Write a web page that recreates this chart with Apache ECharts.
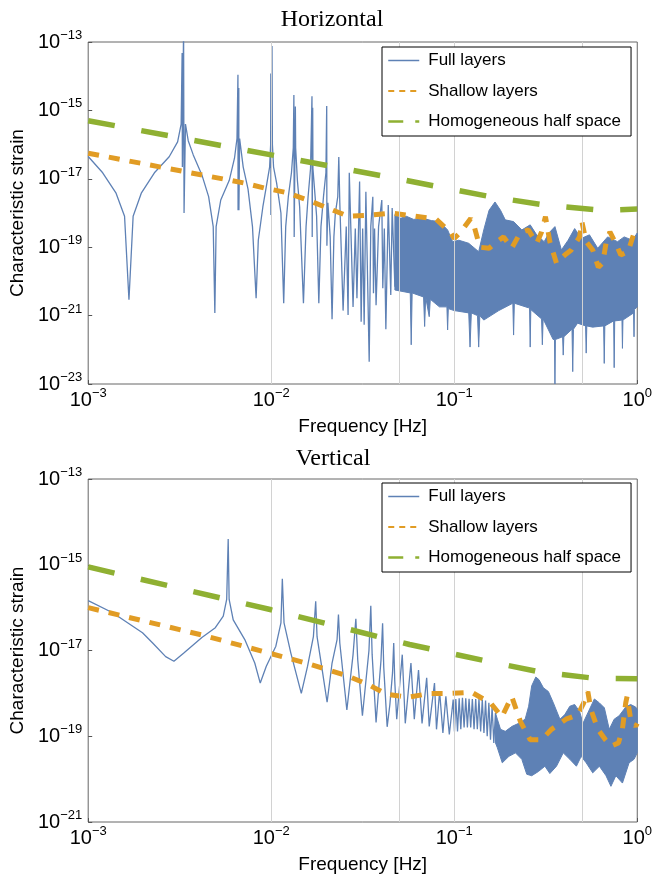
<!DOCTYPE html>
<html><head><meta charset="utf-8">
<script src="https://cdn.jsdelivr.net/npm/echarts@6/dist/echarts.min.js"></script>
<style>html,body{margin:0;padding:0;background:#fff}#c{width:655px;height:876px}</style>
</head><body><div id="c"></div>
<script>
// ---------- tick values ----------
const xTicks = [1e-3, 1e-2, 1e-1, 1];
const yTicksTop = [1e-23, 1e-21, 1e-19, 1e-17, 1e-15, 1e-13];
const yTicksBottom = [1e-21, 1e-19, 1e-17, 1e-15, 1e-13];
const xGridLines = [0.005, 0.01, 0.05, 0.1, 0.5];
const yGridTop = [1e-15, 1e-18, 1e-21];
const yGridBottom = [1e-14, 1e-16, 1e-18, 1e-20];
const titles = ['Horizontal', 'Vertical'];
const seriesNames = ['Full layers', 'Shallow layers', 'Homogeneous half space'];

// ---------- Horizontal: Full layers (resolved part) ----------
const fullH = [
[1.0e-3,4.5e-17],[1.2e-3,1.5e-17],[1.42e-3,3.8e-18],[1.58e-3,8e-19],[1.67e-3,2.9e-21],[1.76e-3,8e-19],
[1.95e-3,3.8e-18],[2.3e-3,1.5e-17],[2.77e-3,4.4e-17],[3.08e-3,1.2e-16],[3.22e-3,4e-16],[3.26e-3,4.8e-14],
[3.27e-3,2.2e-17],[3.32e-3,3e-13],[3.34e-3,1e-18],[3.40e-3,4e-16],[3.52e-3,1.3e-16],[3.75e-3,5e-17],
[4.18e-3,1.3e-17],[4.55e-3,3e-18],[4.82e-3,4e-19],[4.92e-3,1.2e-21],[5.0e-3,4e-19],[5.3e-3,2.4e-18],
[5.9e-3,9e-18],[6.3e-3,4e-17],[6.5e-3,1.5e-16],[6.58e-3,1.1e-14],[6.59e-3,1.2e-18],[6.65e-3,4.5e-15],
[6.66e-3,1.2e-18],[6.72e-3,1.5e-16],[7.03e-3,2.2e-17],[7.47e-3,5e-18],[7.9e-3,4e-19],[8.27e-3,3.2e-21],
[8.5e-3,1.6e-19],[9.0e-3,1.5e-18],[9.4e-3,5.9e-18],[9.8e-3,2.2e-17],[9.93e-3,1e-16],[9.95e-3,1.2e-14],
[9.96e-3,8.7e-19],[1.01e-2,7.6e-14],[1.015e-2,1e-16],[1.03e-2,2.2e-17],[1.07e-2,7.6e-18],[1.13e-2,1e-18],
[1.17e-2,2.3e-21],[1.2e-2,4e-19],[1.24e-2,3e-18],[1.29e-2,1.5e-17],[1.32e-2,8e-17],[1.33e-2,2.8e-15],
[1.335e-2,2e-19],[1.355e-2,1.3e-15],[1.36e-2,8e-17],[1.39e-2,9e-18],[1.43e-2,1.5e-18],[1.5e-2,2.3e-21],
[1.55e-2,4e-19],[1.59e-2,3e-18],[1.64e-2,2e-17],[1.67e-2,2.6e-15],[1.675e-2,2e-19],[1.685e-2,1.2e-15],
[1.69e-2,2e-17],[1.73e-2,4e-18],[1.77e-2,8e-19],[1.82e-2,2.3e-21],[1.87e-2,4e-19],[1.93e-2,3e-18],
[1.99e-2,1.5e-17],[2.01e-2,1.35e-15],[2.015e-2,1.1e-19],[2.04e-2,2e-18],[2.1e-2,2e-19],[2.15e-2,7.8e-22],
[2.2e-2,2e-19],[2.24e-2,9.8e-19],[2.31e-2,3e-18],[2.34e-2,4.3e-17],[2.37e-2,2e-18],[2.47e-2,1.4e-21],
[2.57e-2,4e-19],[2.63e-2,1.05e-21],[2.67e-2,1.5e-17],[2.8e-2,1.8e-21],[2.88e-2,3.5e-19],[2.94e-2,3.2e-21],
[3.04e-2,8.3e-18],[3.1e-2,6.6e-22],[3.16e-2,3.5e-19],[3.22e-2,5.4e-22],[3.29e-2,4.2e-18],[3.43e-2,4.5e-23],
[3.5e-2,4e-19],[3.59e-2,3e-18],[3.62e-2,4.5e-21],[3.67e-2,3.5e-19],[3.74e-2,2e-21],[3.86e-2,4e-19],
[4.02e-2,2.4e-18],[4.07e-2,6.3e-21],[4.15e-2,3.5e-19],[4.23e-2,4e-22],[4.36e-2,1.7e-18],[4.5e-2,4e-21],
[4.58e-2,1.4e-18],[4.74e-2,7e-21],[4.84e-2,1e-18]
];
// Horizontal: Full layers, dense band (upper / lower envelope)
const bandHUpper = [
[0.0474,9e-19],[0.051,7e-19],[0.0548,8e-19],[0.06,6.5e-19],[0.0675,7e-19],[0.075,6e-19],[0.083,5.6e-19],
[0.092,3.2e-19],[0.098,1.45e-19],[0.106,1.6e-19],[0.12,1.3e-19],[0.136,7.4e-20],[0.145,3.2e-19],[0.155,1.2e-18],
[0.167,2.1e-18],[0.179,1.2e-18],[0.19,6.3e-19],[0.211,5.6e-19],[0.234,3.2e-19],[0.26,4.5e-19],[0.282,2.3e-19],
[0.31,1.45e-19],[0.329,2.6e-19],[0.355,4e-19],[0.385,8.3e-20],[0.419,1.6e-19],[0.455,3.5e-19],[0.494,1.8e-19],
[0.548,2.3e-19],[0.608,9.3e-20],[0.689,2e-19],[0.78,1.45e-19],[0.848,2e-19],[0.94,1.6e-19],[1.0,2.6e-19]
];
const bandHLower = [
[0.0474,5.6e-21],[0.0575,4.6e-21],[0.0582,1.4e-22],[0.0589,4.6e-21],[0.068,3.5e-21],[0.0689,4.8e-22],
[0.0698,3.5e-21],[0.073,9.3e-22],[0.074,3e-21],[0.083,1.8e-21],[0.0912,1.8e-21],[0.092,3.8e-22],
[0.0928,1.6e-21],[0.1,1.4e-21],[0.12,1.2e-21],[0.122,1.2e-22],[0.124,1.2e-21],[0.134,1e-21],[0.136,1.2e-22],
[0.138,1e-21],[0.145,7.4e-22],[0.175,1.4e-21],[0.209,2.3e-21],[0.211,2.7e-22],[0.213,2.3e-21],[0.254,1.7e-21],
[0.258,1.7e-21],[0.26,1.2e-22],[0.262,1.5e-21],[0.3,8e-22],[0.303,1.4e-22],[0.306,8e-22],[0.347,2e-22],
[0.353,2e-22],[0.355,1e-23],[0.357,2e-22],[0.391,2.4e-22],[0.394,7e-23],[0.397,2.4e-22],[0.44,4e-22],
[0.444,2.3e-23],[0.448,4e-22],[0.472,6e-22],[0.522,5e-22],[0.526,8e-23],[0.53,5e-22],[0.57,4.6e-22],
[0.655,5e-22],[0.66,4e-23],[0.665,5e-22],[0.743,7e-22],[0.748,3e-23],[0.753,7e-22],[0.825,7.4e-22],
[0.83,1.1e-22],[0.835,7.4e-22],[0.955,1.2e-21],[0.96,2.4e-22],[0.965,1.5e-21],[1.0,1.8e-21]
];
const shallowH = [
[1e-3,5.6e-17],[4.3e-3,1.26e-17],[7.06e-3,7.6e-18],[9.16e-3,5.4e-18],[1.2e-2,4e-18],[1.58e-2,2.4e-18],
[2.03e-2,1.4e-18],[2.63e-2,8.1e-19],[3.5e-2,8.7e-19],[4.55e-2,1e-18],[6.08e-2,8.1e-19],[7.96e-2,6.6e-19],
[9.6e-2,2.6e-19],[0.1,1.8e-19],[0.1087,2.8e-19],[0.123,6.9e-19],[0.128,4.4e-19],[0.138,1e-19],[0.155,9.3e-20],
[0.171,1.45e-19],[0.186,2e-19],[0.206,9.3e-20],[0.229,2.6e-19],[0.254,3.2e-19],[0.282,1.3e-19],[0.3,2.8e-19],
[0.315,7.8e-19],[0.333,1.45e-19],[0.362,3.4e-20],[0.402,5.9e-20],[0.436,8.3e-20],[0.484,2e-19],[0.498,5.6e-19],
[0.526,1.45e-19],[0.571,8.3e-20],[0.613,2.6e-20],[0.647,3.4e-20],[0.675,1.3e-19],[0.709,2.8e-19],[0.763,1.3e-19],
[0.813,5.9e-20],[0.891,7.4e-20],[0.96,2.6e-19],[1.0,3.2e-19]
];
const homoH = [
[1e-3,5e-16],[1e-2,5e-17],[4.2e-2,1.17e-17],[0.16,2.95e-18],[0.316,1.7e-18],[0.63,1.2e-18],[1.0,1.3e-18]
];

// ---------- Vertical ----------
const fullV = [
[1e-3,1.45e-16],[1.36e-3,7.6e-17],[1.98e-3,2.6e-17],[2.25e-3,1.5e-17],[2.65e-3,7.2e-18],[2.94e-3,5.6e-18],
[3.33e-3,8.7e-18],[4.18e-3,2e-17],[4.95e-3,3.4e-17],[5.47e-3,6.3e-17],[5.71e-3,1.55e-16],[5.82e-3,4e-15],
[5.89e-3,1.55e-16],[6.2e-3,5.2e-17],[7.17e-3,1.8e-17],[8.13e-3,5.1e-18],[8.71e-3,1.74e-18],[9.4e-3,4.3e-18],
[1.06e-2,1.26e-17],[1.13e-2,4.4e-17],[1.15e-2,4.7e-16],[1.175e-2,4.4e-17],[1.28e-2,8.7e-18],[1.46e-2,1e-18],
[1.58e-2,4.3e-18],[1.7e-2,2.1e-17],[1.75e-2,1.4e-16],[1.78e-2,2.1e-17],[1.9e-2,3.5e-18],[2.02e-2,6.2e-19],
[2.15e-2,5.1e-18],[2.29e-2,1.8e-17],[2.33e-2,6.9e-17],[2.37e-2,1.5e-17],[2.59e-2,4.1e-19],[2.8e-2,8e-18],
[2.9e-2,5.5e-17],[2.97e-2,6e-18],[3.15e-2,3e-19],[3.42e-2,1e-17],[3.5e-2,1.1e-16],[3.56e-2,8e-18],
[3.74e-2,2.1e-19],[3.98e-2,6e-18],[4.06e-2,4.3e-17],[4.12e-2,4e-18],[4.3e-2,1.66e-19],[4.45e-2,5.5e-19],
[4.6e-2,3e-18],[4.67e-2,1.5e-17],[4.73e-2,2e-18],[4.85e-2,2.5e-19],[5.2e-2,8e-18],[5.4e-2,2e-19],
[5.8e-2,5.1e-18],[6.05e-2,2.5e-19],[6.38e-2,3.5e-18],[6.67e-2,2e-19],[7.07e-2,2.3e-18],[7.3e-2,1.7e-19],
[7.8e-2,1.74e-18],[8.0e-2,1.45e-19],[8.32e-2,1.1e-18],[8.67e-2,1.2e-19],[9.0e-2,8.5e-19],[9.4e-2,1.1e-19],
[9.87e-2,7.2e-19],[0.1003,1.3e-19],[0.102,7.4e-19],[0.1042,1.3e-19],[0.1064,7.7e-19],[0.1086,1.45e-19],
[0.1109,7.9e-19],[0.1132,1.6e-19],[0.1156,7.7e-19],[0.118,1.6e-19],[0.1205,7.5e-19],[0.123,1.6e-19],
[0.1256,7.4e-19],[0.1283,1.45e-19],[0.131,7.4e-19],[0.1337,1.45e-19],[0.1365,7.4e-19],[0.1394,1.3e-19],
[0.1423,7.2e-19],[0.1453,1.2e-19],[0.1483,6.8e-19],[0.1514,1e-19],[0.1546,6e-19],[0.1578,8.3e-20],
[0.161,4.9e-19],[0.1645,7e-20],[0.168,3.5e-19]
];
const bandVUpper = [
[0.168,3.5e-19],[0.172,2.5e-19],[0.179,1.45e-19],[0.19,1.3e-19],[0.207,1.7e-19],[0.225,2e-19],[0.244,2.5e-19],
[0.255,5e-19],[0.265,1.5e-18],[0.279,2.4e-18],[0.29,2.1e-18],[0.307,1.35e-18],[0.327,1.1e-18],[0.348,6e-19],
[0.378,2.5e-19],[0.402,3.2e-19],[0.428,5e-19],[0.455,5.5e-19],[0.484,3.8e-19],[0.505,2e-19],[0.537,3.5e-19],
[0.583,7.4e-19],[0.621,6e-19],[0.661,4.6e-19],[0.703,1.45e-19],[0.748,2.5e-19],[0.796,3e-19],[0.865,4.8e-19],
[0.92,5.5e-19],[0.98,4.8e-19],[1.0,4.2e-19]
];
const bandVLower = [
[0.168,7e-20],[0.172,5.4e-20],[0.183,2.4e-20],[0.199,3.4e-20],[0.216,4.1e-20],[0.234,2.9e-20],[0.249,1.3e-20],
[0.265,1.2e-20],[0.288,1.5e-20],[0.313,2e-20],[0.333,1.35e-20],[0.362,2e-20],[0.394,4.1e-20],[0.428,2.9e-20],
[0.465,2e-20],[0.494,3.4e-20],[0.526,2.4e-20],[0.571,1.4e-20],[0.621,2e-20],[0.675,1.2e-20],[0.718,6.8e-21],
[0.764,1.2e-20],[0.83,8.1e-21],[0.902,2.4e-20],[0.96,2.9e-20],[1.0,4.1e-20]
];
const shallowV = [
[1e-3,1e-16],[4.18e-3,2.3e-17],[1.55e-2,5.1e-18],[2.58e-2,2.6e-18],[3.39e-2,1.6e-18],[4.29e-2,9.5e-19],
[5.57e-2,8.1e-19],[7.42e-2,1e-18],[9.64e-2,1e-18],[0.125,1.05e-18],[0.159,5.8e-19],[0.182,2.8e-19],
[0.206,8.5e-19],[0.23,2.2e-19],[0.26,8.3e-20],[0.3,8.3e-20],[0.34,1.45e-19],[0.408,2.5e-19],[0.474,3.2e-19],
[0.51,6e-19],[0.537,1.1e-18],[0.558,4.2e-19],[0.61,1.45e-19],[0.67,8.3e-20],[0.72,5.9e-20],[0.79,7e-20],
[0.83,1.5e-19],[0.865,6e-19],[0.88,8.5e-19],[0.92,2.5e-19],[0.98,1.7e-19],[1.0,2e-19]
];
const homoV = [
[1e-3,8.9e-16],[1e-2,8.9e-17],[5.7e-2,1.38e-17],[0.155,5.5e-18],[0.30,3.1e-18],[0.59,2.24e-18],[1.0,2.19e-18]
];

// ---------- styling ----------
const BLUE = '#5e81b5', ORANGE = '#e19c24', GREEN = '#8fb032';
const SANS = 'Liberation Sans, Arial, Helvetica, sans-serif';
const SERIF = 'Liberation Serif, Times New Roman, serif';

function powLabel(v) {
  const e = Math.round(Math.log10(v));
  return '{b|10}{s|' + (e < 0 ? '\u2212' + (-e) : String(e)) + '}';
}
const rich = {
  b: {fontFamily: SANS, fontSize: 20, lineHeight: 26, color: '#000'},
  s: {fontFamily: SANS, fontSize: 13, lineHeight: 13, verticalAlign: 'top', color: '#000'}
};
function gridMark(ys) {
  return {
    silent: true, symbol: 'none', animation: false, label: {show: false},
    lineStyle: {color: '#d2d2d2', width: 1, type: 'solid'},
    emphasis: {disabled: true},
    data: xGridLines.map(v => ({xAxis: v})).concat(ys.map(v => ({yAxis: v})))
  };
}
function xAxisCfg(i) {
  return {
    gridIndex: i, type: 'log', logBase: 10, min: 1e-3, max: 1,
    axisLine: {show: false}, splitLine: {show: false},
    axisTick: {show: true, inside: true, length: 4, customValues: xTicks, lineStyle: {color: '#555'}},
    axisLabel: {customValues: xTicks, formatter: powLabel, rich: rich, margin: 3},
    name: 'Frequency [Hz]', nameLocation: 'middle', nameGap: 33,
    nameTextStyle: {fontFamily: SANS, fontSize: 19, color: '#000'}
  };
}
function yAxisCfg(i, min, ticks) {
  return {
    gridIndex: i, type: 'log', logBase: 10, min: min, max: 1e-13,
    axisLine: {show: false}, splitLine: {show: false},
    axisTick: {show: true, inside: true, length: 4, customValues: ticks, lineStyle: {color: '#555'}},
    axisLabel: {customValues: ticks, formatter: powLabel, rich: rich, margin: 6},
    name: 'Characteristic strain', nameLocation: 'middle', nameGap: 52,
    nameTextStyle: {fontFamily: SANS, fontSize: 19, color: '#000'}
  };
}
function bandSeries(i, upper, lower) {
  return {
    type: 'custom', name: 'band' + i, xAxisIndex: i, yAxisIndex: i, clip: true, silent: true, z: 3,
    data: [upper[0]],
    renderItem: function (params, api) {
      const pts = upper.concat(lower.slice().reverse()).map(p => api.coord(p));
      return {type: 'polygon', shape: {points: pts}, style: {fill: BLUE, stroke: BLUE, lineWidth: 1}};
    }
  };
}
function chartSeries(i, full, upper, lower, shallow, homo, ys) {
  return [
    {type: 'line', name: 'grid' + i, xAxisIndex: i, yAxisIndex: i, data: [], symbol: 'none', z: 1, markLine: gridMark(ys)},
    {type: 'line', name: seriesNames[0], xAxisIndex: i, yAxisIndex: i, data: full, symbol: 'none', z: 3,
     lineStyle: {color: BLUE, width: 1.3}, itemStyle: {color: BLUE}, emphasis: {disabled: true}},
    bandSeries(i, upper, lower),
    {type: 'line', name: seriesNames[1], xAxisIndex: i, yAxisIndex: i, data: shallow, symbol: 'none', z: 4,
     lineStyle: {color: ORANGE, width: 5, type: [11, 10]}, itemStyle: {color: ORANGE}, emphasis: {disabled: true}},
    {type: 'line', name: seriesNames[2], xAxisIndex: i, yAxisIndex: i, data: homo, symbol: 'none', z: 5,
     lineStyle: {color: GREEN, width: 5.5, type: [27, 27]}, itemStyle: {color: GREEN}, emphasis: {disabled: true}}
  ];
}
const hiddenSymbol = {color: 'rgba(0,0,0,0)', borderWidth: 0, opacity: 0};
function legendCfg(top) {
  return {
    orient: 'vertical', left: 382, top: top, itemWidth: 31, itemHeight: 14, itemGap: 13.5,
    padding: [5, 10, 6, 5], borderColor: '#000', borderWidth: 1, borderRadius: 0, backgroundColor: '#fff',
    selectedMode: false, z: 10,
    textStyle: {fontFamily: SANS, fontSize: 17, color: '#000', padding: [0, 0, 0, 4]},
    data: [
      {name: seriesNames[0], itemStyle: hiddenSymbol, lineStyle: {width: 1.5, color: BLUE, opacity: 1}},
      {name: seriesNames[1], itemStyle: hiddenSymbol, lineStyle: {width: 2.2, color: ORANGE, type: [6, 5], opacity: 1}},
      {name: seriesNames[2], itemStyle: hiddenSymbol, lineStyle: {width: 2.5, color: GREEN, type: [15, 12], opacity: 1}}
    ]
  };
}

const chart = echarts.init(document.getElementById('c'), null, {renderer: 'canvas'});
chart.setOption({
  animation: false,
  backgroundColor: '#fff',
  graphic: [
    {type: 'text', x: 332, y: 20, style: {text: titles[0], font: '24px ' + SERIF, fill: '#000', align: 'center', verticalAlign: 'middle', textAlign: 'center', textVerticalAlign: 'middle'}},
    {type: 'text', x: 333, y: 459, style: {text: titles[1], font: '24px ' + SERIF, fill: '#000', align: 'center', verticalAlign: 'middle', textAlign: 'center', textVerticalAlign: 'middle'}}
  ],
  legend: [legendCfg(47), legendCfg(483)],
  grid: [
    {left: 85, top: 42, width: 555, height: 342, show: true, borderColor: '#666', borderWidth: 1, backgroundColor: 'transparent'},
    {left: 85, top: 479, width: 555, height: 343, show: true, borderColor: '#666', borderWidth: 1, backgroundColor: 'transparent'}
  ],
  xAxis: [xAxisCfg(0), xAxisCfg(1)],
  yAxis: [yAxisCfg(0, 1e-23, yTicksTop), yAxisCfg(1, 1e-21, yTicksBottom)],
  series: chartSeries(0, fullH, bandHUpper, bandHLower, shallowH, homoH, yGridTop)
    .concat(chartSeries(1, fullV, bandVUpper, bandVLower, shallowV, homoV, yGridBottom))
});
</script>
</body></html>
